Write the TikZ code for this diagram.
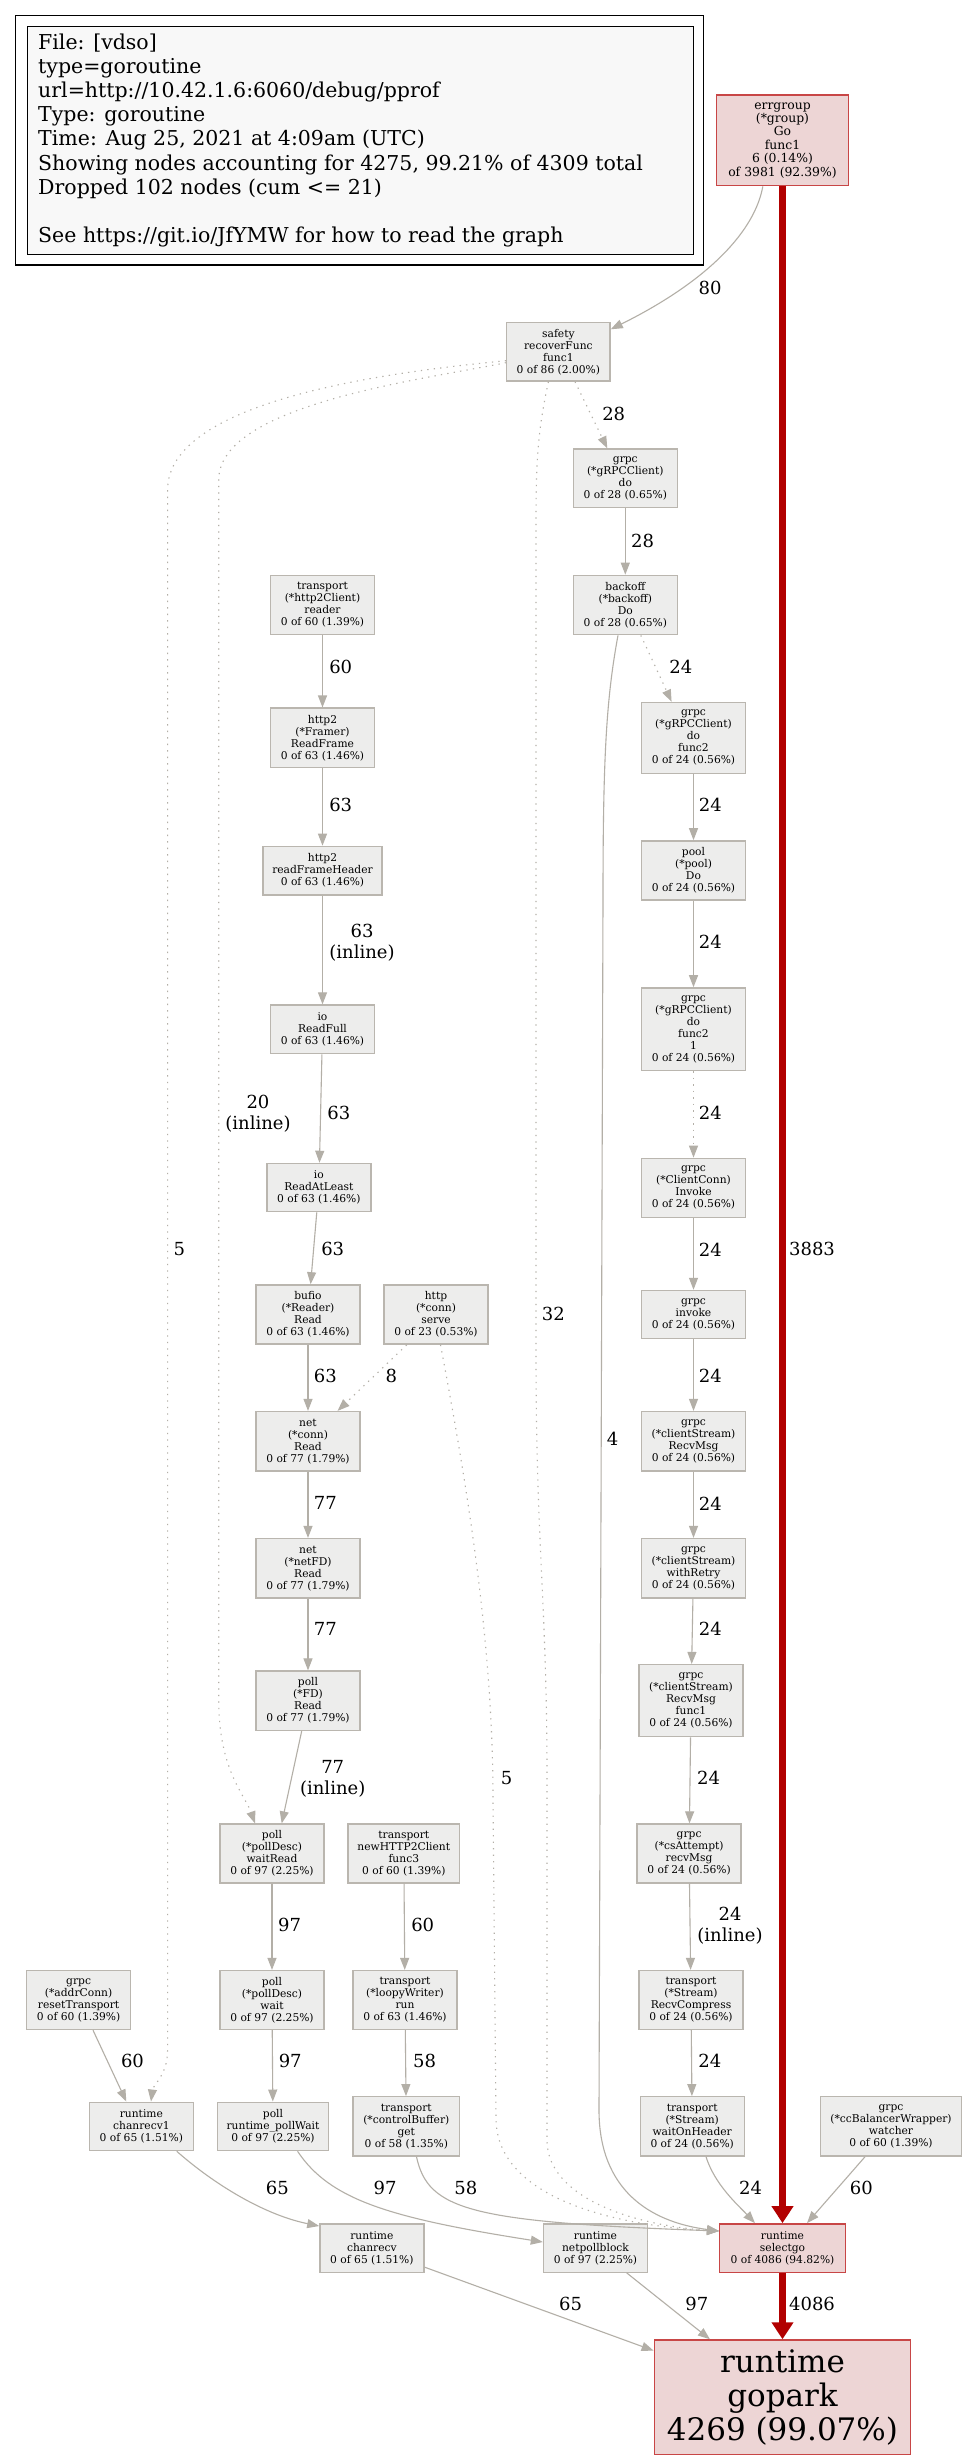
\documentclass[tikz,border=0pt]{standalone}
\usepackage{fontspec}
\setmainfont{DejaVu Serif}
\usetikzlibrary{arrows.meta,calc}
\definecolor{edgegray}{HTML}{B3AFA7}
\definecolor{nodeborder}{HTML}{BAB6AF}
\definecolor{nodefill}{HTML}{EDEDEC}
\definecolor{redfg}{HTML}{B20000}
\definecolor{redborder}{HTML}{C84646}
\definecolor{redfill}{HTML}{EDD5D5}
\definecolor{legendfill}{HTML}{F8F8F8}
\begin{document}
\begin{tikzpicture}[x=1pt,y=-1pt,
  gnode/.style={draw=nodeborder, line width=1.4pt, fill=nodefill, rectangle, inner sep=0pt, align=center, font=\fontsize{10.7}{12}\selectfont, minimum width=104pt},
  rnode/.style={gnode, draw=redborder, fill=redfill},
  elabel/.style={font=\fontsize{18}{21}\selectfont, inner sep=0pt, align=center},
  legline/.style={font=\fontsize{20.5}{24.2}\selectfont, inner sep=0pt, anchor=base west},
  e/.style={draw=edgegray, line width=1.1pt, -{Triangle[length=12pt,width=9pt]}},
  dotd/.style={e, dash pattern=on 1.3pt off 5.2pt},
  redge/.style={draw=redfg, line width=6.5pt, -{Triangle[length=17pt,width=21pt]}}
]
\useasboundingbox (0,0) rectangle (966,2460);
\fill[white] (0,0) rectangle (966,2460);

% legend
\node[draw=black, line width=1.3pt, minimum width=688.2pt, minimum height=249.2pt, inner sep=0pt] (legendouter) at (359.5,140.4) {};
\node[draw=black, line width=1pt, fill=legendfill, minimum width=666pt, minimum height=228.1pt, inner sep=0pt] (legendinner) at (360,140.55) {};
\node[legline] (leg1) at (38,49) {File: [vdso]};
\node[legline] (leg2) at (38,73.2) {type=goroutine};
\node[legline] (leg3) at (38,97.4) {url=http://10.42.1.6:6060/debug/pprof};
\node[legline] (leg4) at (38,121.6) {Type: goroutine};
\node[legline] (leg5) at (38,145.8) {Time: Aug 25, 2021 at 4:09am (UTC)};
\node[legline] (leg6) at (38,170) {Showing nodes accounting for 4275, 99.21\% of 4309 total};
\node[legline] (leg7) at (38,194.2) {Dropped 102 nodes (cum <= 21)};
\node[legline] (leg8) at (38,242.6) {See https://git.io/JfYMW for how to read the graph};

% nodes
\node[rnode, font=\fontsize{12.4}{13.4}\selectfont, minimum width=131.8pt, minimum height=90.9pt] (errgroup) at (782.5,140.3) {errgroup\\(*group)\\Go\\func1\\6 (0.14\%)\\of 3981 (92.39\%)};
\node[gnode, minimum width=103.3pt, minimum height=58.3pt] (safety) at (558.4,351.9) {safety\\recoverFunc\\func1\\0 of 86 (2.00\%)};
\node[gnode, minimum height=58.3pt] (grpcdo) at (625.3,478.2) {grpc\\(*gRPCClient)\\do\\0 of 28 (0.65\%)};
\node[gnode, minimum height=59.3pt] (backoff) at (625.3,605) {backoff\\(*backoff)\\Do\\0 of 28 (0.65\%)};
\node[gnode, minimum height=59.3pt] (reader) at (322.5,605) {transport\\(*http2Client)\\reader\\0 of 60 (1.39\%)};
\node[gnode, minimum height=59.3pt] (readframe) at (322.5,737.8) {http2\\(*Framer)\\ReadFrame\\0 of 63 (1.46\%)};
\node[gnode, minimum width=119pt, minimum height=48.7pt] (readframeheader) at (322.5,870.7) {http2\\readFrameHeader\\0 of 63 (1.46\%)};
\node[gnode, minimum height=48.5pt] (readfull) at (322.5,1029.3) {io\\ReadFull\\0 of 63 (1.46\%)};
\node[gnode, minimum height=48.3pt] (readatleast) at (318.9,1187.6) {io\\ReadAtLeast\\0 of 63 (1.46\%)};
\node[gnode, minimum height=59.3pt] (bufioread) at (308,1314.5) {bufio\\(*Reader)\\Read\\0 of 63 (1.46\%)};
\node[gnode, minimum height=59.3pt] (httpserve) at (436,1314.5) {http\\(*conn)\\serve\\0 of 23 (0.53\%)};
\node[gnode, minimum height=59.3pt] (netconn) at (308,1441.2) {net\\(*conn)\\Read\\0 of 77 (1.79\%)};
\node[gnode, minimum height=59.3pt] (netfd) at (308,1568.2) {net\\(*netFD)\\Read\\0 of 77 (1.79\%)};
\node[gnode, minimum height=59.3pt] (fdread) at (308,1700.7) {poll\\(*FD)\\Read\\0 of 77 (1.79\%)};
\node[gnode, minimum height=58.9pt] (waitread) at (272,1853.5) {poll\\(*pollDesc)\\waitRead\\0 of 97 (2.25\%)};
\node[gnode, minimum width=111.6pt, minimum height=58.9pt] (func3) at (403.8,1853.5) {transport\\newHTTP2Client\\func3\\0 of 60 (1.39\%)};
\node[gnode, minimum height=58.9pt] (csattempt) at (689.1,1853.5) {grpc\\(*csAttempt)\\recvMsg\\0 of 24 (0.56\%)};
\node[gnode, minimum height=58.9pt] (reset) at (78.6,2000) {grpc\\(*addrConn)\\resetTransport\\0 of 60 (1.39\%)};
\node[gnode, minimum height=58.9pt] (pollwaitdesc) at (272,2000) {poll\\(*pollDesc)\\wait\\0 of 97 (2.25\%)};
\node[gnode, minimum height=58.9pt] (looprun) at (405,2000) {transport\\(*loopyWriter)\\run\\0 of 63 (1.46\%)};
\node[gnode, minimum height=58.9pt] (recvcompress) at (691,2000) {transport\\(*Stream)\\RecvCompress\\0 of 24 (0.56\%)};
\node[gnode, minimum height=48.4pt] (chanrecv1) at (141.4,2126.4) {runtime\\chanrecv1\\0 of 65 (1.51\%)};
\node[gnode, minimum width=111pt, minimum height=48.4pt] (pollwait) at (273,2126.4) {poll\\runtime\_pollWait\\0 of 97 (2.25\%)};
\node[gnode, minimum width=106.6pt, minimum height=59.3pt] (cbget) at (406.3,2126.4) {transport\\(*controlBuffer)\\get\\0 of 58 (1.35\%)};
\node[gnode, minimum height=59.3pt] (waitonheader) at (692.2,2126.4) {transport\\(*Stream)\\waitOnHeader\\0 of 24 (0.56\%)};
\node[gnode, minimum width=140.5pt, minimum height=59.3pt] (ccb) at (891,2126.4) {grpc\\(*ccBalancerWrapper)\\watcher\\0 of 60 (1.39\%)};
\node[gnode, minimum height=48.4pt] (chanrecv) at (371.9,2248) {runtime\\chanrecv\\0 of 65 (1.51\%)};
\node[gnode, minimum height=48.4pt] (netpollblock) at (595.5,2248) {runtime\\netpollblock\\0 of 97 (2.25\%)};
\node[rnode, minimum width=125.7pt, minimum height=48.4pt] (selectgo) at (782.5,2248) {runtime\\selectgo\\0 of 4086 (94.82\%)};
\node[rnode, font=\fontsize{31}{33.7}\selectfont, minimum width=256.4pt, minimum height=114.7pt] (gopark) at (782.5,2397.3) {runtime\\gopark\\4269 (99.07\%)};

\node[gnode, minimum height=70.8pt] (func2) at (693.5,737.8) {grpc\\(*gRPCClient)\\do\\func2\\0 of 24 (0.56\%)};
\node[gnode, minimum height=59.3pt] (pooldo) at (693.5,870.5) {pool\\(*pool)\\Do\\0 of 24 (0.56\%)};
\node[gnode, minimum height=82.6pt] (func21) at (693.5,1029.2) {grpc\\(*gRPCClient)\\do\\func2\\1\\0 of 24 (0.56\%)};
\node[gnode, minimum height=59pt] (ccinvoke) at (693.5,1187.8) {grpc\\(*ClientConn)\\Invoke\\0 of 24 (0.56\%)};
\node[gnode, minimum height=48.3pt] (invoke) at (693.5,1314.6) {grpc\\invoke\\0 of 24 (0.56\%)};
\node[gnode, minimum height=59.3pt] (recvmsg) at (693.5,1441.2) {grpc\\(*clientStream)\\RecvMsg\\0 of 24 (0.56\%)};
\node[gnode, minimum height=59.3pt] (withretry) at (693.5,1568.2) {grpc\\(*clientStream)\\withRetry\\0 of 24 (0.56\%)};
\node[gnode, minimum height=72pt] (recvmsgf1) at (691,1700.6) {grpc\\(*clientStream)\\RecvMsg\\func1\\0 of 24 (0.56\%)};

\coordinate (selectin) at ([yshift=17]selectgo.west);

% edges
\draw[redge] (errgroup) -- (selectgo);
\draw[redge] (selectgo) -- (gopark);
\draw[e] ([xshift=-19.7]errgroup.south) .. controls (755,230) and (710,280) .. ([yshift=22.6]safety.east);
\draw[dotd] ([xshift=16.6]safety.south) -- ([xshift=-18]grpcdo.north);
\draw[e] (grpcdo) -- (backoff);
\draw[dotd] ([xshift=15.5]backoff.south) -- ([xshift=-21.9]func2.north);
\draw[e] (func2) -- (pooldo);
\draw[e] (pooldo) -- (func21);
\draw[dotd] (func21) -- (ccinvoke);
\draw[e] (ccinvoke) -- (invoke);
\draw[e] (invoke) -- (recvmsg);
\draw[e] (recvmsg) -- (withretry);
\draw[e] (withretry) -- (recvmsgf1);
\draw[e] (recvmsgf1) -- (csattempt);
\draw[e] (csattempt) -- (recvcompress);
\draw[e] (recvcompress) -- (waitonheader);
\draw[e] ([xshift=13.8]waitonheader.south) .. controls (715,2185) and (738,2205) .. ([xshift=-27.5]selectgo.north);
\draw[e] ([xshift=-26]ccb.south) -- ([xshift=24.5]selectgo.north);

\draw[e] (reader) -- (readframe);
\draw[e] (readframe) -- (readframeheader);
\draw[e] (readframeheader) -- (readfull);
\draw[e] (readfull) -- (readatleast);
\draw[e] (readatleast) -- (bufioread);
\draw[e] (bufioread) -- (netconn);
\draw[dotd] ([xshift=-29.3]httpserve.south) -- ([xshift=29.6]netconn.north);
\draw[e] (netconn) -- (netfd);
\draw[e] (netfd) -- (fdread);
\draw[e] ([xshift=-6.3]fdread.south) -- ([xshift=9.7]waitread.north);
\draw[e] (waitread) -- (pollwaitdesc);
\draw[e] (pollwaitdesc) -- (pollwait);
\draw[e] (func3) -- (looprun);
\draw[e] (looprun) -- (cbget);
\draw[e] ([xshift=14.4]reset.south) -- ([xshift=-15.1]chanrecv1.north);
\draw[e] ([xshift=35.4]chanrecv1.south) .. controls (215,2185) and (265,2215) .. ([yshift=22]chanrecv.west);
\draw[e] ([xshift=24.6]pollwait.south) .. controls (330,2200) and (390,2218) .. ([yshift=6]netpollblock.west);
\draw[e] (chanrecv) -- (gopark);
\draw[e] (netpollblock) -- (gopark);

\draw[e] ([xshift=10.2]cbget.south) .. controls (428,2210) and (470,2222) .. (selectin);
\draw[e] ([xshift=-7.3]backoff.south) .. controls (606,700) and (603,760) .. (603,900) -- (599,2110) .. controls (599,2190) and (650,2222) .. (selectin);
\draw[dotd] ([xshift=-10]safety.south) .. controls (538,430) and (536,460) .. (536,520) -- (536,1350) .. controls (536,1550) and (547,1600) .. (547,1780) -- (547,2140) .. controls (547,2200) and (640,2226) .. (selectin);
\draw[dotd] ([xshift=4.5]httpserve.south) .. controls (470,1500) and (493,1650) .. (493,1800) -- (496,2120) .. controls (498,2200) and (620,2226) .. (selectin);
\draw[dotd] ([yshift=-8.8]safety.west) .. controls (390,372) and (167.6,400) .. (167.6,490) -- (167.6,2050) .. controls (167.6,2075) and (153,2085) .. ([xshift=9.6]chanrecv1.north);
\draw[dotd] ([yshift=-10.8]safety.west) .. controls (420,380) and (218.7,405) .. (218.7,480) -- (218.7,1700) .. controls (218.7,1770) and (245,1795) .. ([xshift=-17]waitread.north);

% edge labels
\node[elabel] (l80) at (710,288) {80};
\node[elabel] (l28a) at (613.7,413.6) {28};
\node[elabel] (l28b) at (642.6,540.5) {28};
\node[elabel] (l60a) at (340.7,667.2) {60};
\node[elabel] (l24a) at (680.8,667.2) {24};
\node[elabel] (l63a) at (340.7,805.2) {63};
\node[elabel] (l24b) at (710.4,805.2) {24};
\node[elabel] (l63b) at (362,942.6) {63\\(inline)};
\node[elabel] (l24c) at (710.4,942) {24};
\node[elabel] (l20) at (258,1113.5) {20\\(inline)};
\node[elabel] (l63c) at (338.9,1113.2) {63};
\node[elabel] (l24d) at (710.4,1113.2) {24};
\node[elabel] (l5a) at (179.3,1249.4) {5};
\node[elabel] (l63d) at (332.7,1249.4) {63};
\node[elabel] (l24e) at (710.4,1249.4) {24};
\node[elabel] (l3883) at (812,1249.4) {3883};
\node[elabel] (l32) at (553.3,1313.5) {32};
\node[elabel] (l63e) at (325.3,1376) {63};
\node[elabel] (l8) at (391.3,1376) {8};
\node[elabel] (l24f) at (710.4,1376) {24};
\node[elabel] (l4) at (612.5,1439.2) {4};
\node[elabel] (l77a) at (325.3,1503.3) {77};
\node[elabel] (l24g) at (710.4,1503.3) {24};
\node[elabel] (l77b) at (325.3,1629) {77};
\node[elabel] (l24h) at (710.4,1629) {24};
\node[elabel] (l77c) at (332.7,1778.7) {77\\(inline)};
\node[elabel] (l5b) at (506.5,1778) {5};
\node[elabel] (l24i) at (708.6,1778) {24};
\node[elabel] (l97a) at (289.6,1925) {97};
\node[elabel] (l60b) at (422.7,1925) {60};
\node[elabel] (l24j) at (730,1925.2) {24\\(inline)};
\node[elabel] (l60c) at (132.5,2061) {60};
\node[elabel] (l97b) at (290.2,2061) {97};
\node[elabel] (l58a) at (424.5,2061) {58};
\node[elabel] (l24k) at (709.8,2061) {24};
\node[elabel] (l65a) at (277.3,2188) {65};
\node[elabel] (l97c) at (385,2188) {97};
\node[elabel] (l58b) at (465.8,2188) {58};
\node[elabel] (l24l) at (750.5,2188) {24};
\node[elabel] (l60d) at (861.4,2188) {60};
\node[elabel] (l65b) at (570.5,2304.2) {65};
\node[elabel] (l97d) at (696.9,2304.2) {97};
\node[elabel] (l4086) at (812,2304.2) {4086};
\end{tikzpicture}
\end{document}
